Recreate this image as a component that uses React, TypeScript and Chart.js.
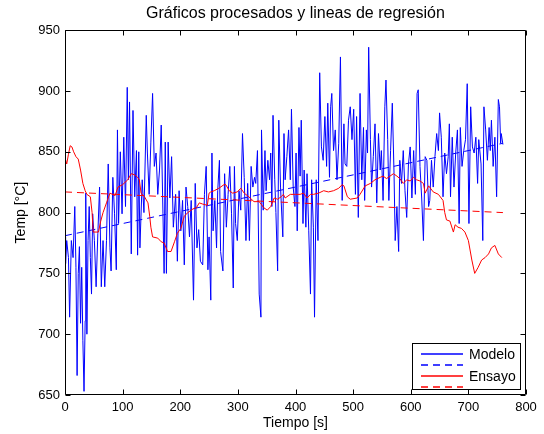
import React, { useEffect, useRef } from 'react';
import { Chart, registerables } from 'chart.js';

Chart.register(...registerables);

const FONT = "'Liberation Sans', Arial, Helvetica, sans-serif";

const titleText = 'Gráficos procesados y lineas de regresión';
const xTitle = 'Tiempo [s]';
const yTitle = 'Temp [°C]';

const xTicks = [0, 100, 200, 300, 400, 500, 600, 700, 800];
const yTicks = [650, 700, 750, 800, 850, 900, 950];

const legendLabels = ['Modelo', '', 'Ensayo', ''];

// Modelo (blue) – time [s]
const modeloT = [
  0, 1, 3, 6, 8, 11, 14, 17, 19, 21, 23, 25, 27, 29, 31, 33, 35, 36, 38, 40,
  42, 44, 46, 48, 51, 54, 57, 60, 63, 66, 69, 72, 75, 78, 80, 83, 86, 89, 91, 93,
  96, 99, 102, 105, 108, 110, 112, 115, 118, 121, 124, 126, 128, 130, 134, 137, 141, 143, 146, 149,
  152, 155, 158, 161, 164, 167, 170, 172, 174, 176, 179, 182, 185, 188, 192, 195, 198, 201, 204, 207,
  210, 213, 216, 219, 223, 226, 229, 232, 235, 239, 242, 245, 248, 250, 253, 255, 257, 260, 263, 265,
  268, 270, 274, 277, 280, 283, 286, 289, 292, 294, 296, 299, 302, 305, 308, 311, 314, 317, 320, 323,
  326, 329, 331, 334, 337, 340, 341, 344, 347, 349, 352, 355, 357, 359, 361, 364, 366, 369, 371, 374,
  378, 380, 382, 385, 388, 391, 393, 396, 399, 401, 403, 406, 408, 410, 413, 415, 418, 420, 423, 426,
  428, 431, 433, 436, 439, 442, 445, 448, 451, 454, 456, 459, 461, 463, 466, 469, 472, 475, 478, 481,
  484, 486, 489, 492, 495, 498, 501, 504, 506, 509, 512, 515, 518, 520, 523, 525, 527, 530, 532, 535,
  538, 541, 544, 547, 549, 552, 555, 557, 560, 562, 565, 568, 571, 573, 576, 579, 581, 584, 587, 590,
  593, 596, 599, 602, 605, 608, 611, 613, 616, 619, 622, 625, 628, 631, 633, 636, 639, 642, 645, 648,
  650, 653, 656, 659, 662, 665, 667, 669, 672, 675, 678, 681, 684, 686, 689, 692, 695, 698, 701, 704,
  707, 710, 713, 716, 718, 722, 725, 727, 730, 733, 736, 738, 740, 743, 746, 749, 752, 754, 756, 757,
  760,
];
// Modelo (blue) – temperature [°C]
const modeloTemp = [
  780, 758, 777, 763, 714, 777, 763, 805, 755, 666, 750, 772, 709, 755, 695, 653, 711, 816, 700, 777,
  805, 763, 733, 799, 777, 739, 783, 821, 739, 777, 739, 777, 840, 771, 752, 829, 799, 753, 868, 791,
  850, 799, 862, 805, 903, 827, 891, 766, 884, 813, 851, 765, 850, 771, 827, 800, 880, 849, 815, 858,
  898, 838, 849, 815, 835, 872, 799, 750, 858, 750, 858, 812, 846, 788, 815, 760, 818, 785, 810, 757,
  821, 805, 780, 810, 728, 824, 771, 786, 760, 757, 815, 838, 753, 780, 728, 849, 785, 810, 771, 818,
  843, 768, 752, 832, 788, 815, 838, 799, 738, 838, 791, 777, 818, 802, 865, 829, 777, 824, 777, 838,
  821, 829, 824, 851, 733, 714, 868, 802, 851, 818, 843, 827, 849, 805, 880, 827, 800, 752, 876, 821,
  780, 865, 827, 846, 868, 827, 885, 821, 805, 849, 785, 870, 830, 876, 791, 835, 788, 832, 785, 733,
  827, 788, 714, 827, 777, 915, 854, 843, 879, 838, 890, 829, 887, 898, 851, 868, 827, 857, 928, 810,
  873, 840, 838, 876, 887, 860, 885, 815, 879, 796, 898, 827, 870, 810, 868, 849, 936, 860, 821, 846,
  873, 808, 865, 835, 851, 810, 887, 909, 860, 810, 851, 890, 832, 777, 805, 768, 843, 824, 851, 818,
  796, 840, 854, 812, 851, 815, 898, 901, 838, 812, 777, 846, 843, 805, 810, 843, 821, 846, 865, 851,
  882, 862, 813, 849, 832, 846, 873, 813, 862, 821, 849, 868, 791, 870, 838, 851, 860, 906, 791, 887,
  854, 849, 862, 824, 860, 840, 777, 887, 868, 843, 870, 851, 876, 838, 862, 813, 893, 887, 857, 865,
  856,
];

// Ensayo (red) – time [s]
const ensayoT = [
  0, 3, 6, 9, 12, 15, 19, 23, 27, 31, 35, 38, 44, 47, 49, 58, 62, 66, 72, 78,
  87, 92, 100, 109, 115, 121, 126, 129, 132, 138, 144, 147, 149, 152, 161, 167, 172, 178, 184, 190,
  195, 201, 207, 213, 222, 228, 233, 239, 247, 250, 253, 259, 267, 276, 279, 285, 291, 299, 305, 311,
  319, 328, 337, 345, 351, 357, 363, 369, 375, 379, 382, 391, 400, 408, 414, 420, 426, 431, 440, 449,
  457, 466, 475, 481, 484, 490, 495, 507, 512, 521, 530, 538, 547, 552, 558, 564, 570, 576, 581, 587,
  593, 599, 605, 610, 616, 622, 625, 631, 639, 648, 656, 659, 662, 668, 674, 677, 682, 688, 694, 700,
  706, 711, 717, 723, 729, 735, 740, 746, 752, 758,
];
// Ensayo (red) – temperature [°C]
const ensayoTemp = [
  845, 840, 848, 855, 854, 850, 846, 844, 835, 824, 818, 815, 813, 800, 784, 784, 793, 800, 808, 816,
  814, 821, 823, 827, 832, 831, 829, 827, 816, 813, 808, 797, 788, 780, 779, 776, 775, 768, 768, 776,
  783, 787, 797, 800, 803, 804, 808, 807, 806, 816, 817, 818, 820, 823, 823, 818, 816, 817, 820, 816,
  813, 809, 809, 804, 802, 805, 812, 811, 813, 815, 812, 815, 815, 815, 816, 812, 815, 815, 816, 818,
  817, 818, 820, 823, 822, 813, 811, 812, 815, 822, 824, 827, 829, 830, 828, 830, 832, 830, 828, 824,
  827, 826, 829, 827, 826, 824, 816, 822, 817, 815, 810, 800, 794, 793, 784, 790, 788, 787, 784, 777,
  761, 750, 755, 761, 763, 766, 771, 773, 766, 763,
];

// Regression lines (end points)
const regT = [0, 760];
const regModelo = [781, 857];
const regEnsayo = [817, 800];

const BLUE = '#0000ff';
const RED = '#ff0000';
const DASH = [7, 5];

const legendColors = [BLUE, BLUE, RED, RED];
const legendDashed = [false, true, false, true];

const pts = (xs: number[], ys: number[]) => xs.map((x, i) => ({ x, y: ys[i] }));

const titleOverAxes = {
  id: 'titleOverAxes',
  afterLayout(chart: any) {
    const tb = chart.titleBlock;
    if (tb) {
      tb.left = chart.chartArea.left;
      tb.right = chart.chartArea.right;
      tb.width = tb.right - tb.left;
    }
  },
};

const framePlugin = {
  id: 'frame',
  afterDatasetsDraw(chart: any) {
    const { ctx, chartArea: a, scales } = chart;
    const xs = scales.x;
    const ys = scales.y;
    const L = Math.round(a.left) + 0.5;
    const R = Math.round(a.right) - 0.5;
    const T = Math.round(a.top) + 0.5;
    const B = Math.round(a.bottom) - 0.5;
    const tl = 5;
    ctx.save();
    ctx.strokeStyle = '#000';
    ctx.lineWidth = 1;
    ctx.setLineDash([]);
    ctx.beginPath();
    ctx.rect(L, T, R - L, B - T);
    xTicks.forEach((v) => {
      const px = Math.round(xs.getPixelForValue(v)) + 0.5;
      ctx.moveTo(px, B);
      ctx.lineTo(px, B - tl);
      ctx.moveTo(px, T);
      ctx.lineTo(px, T + tl);
    });
    yTicks.forEach((v) => {
      const py = Math.round(ys.getPixelForValue(v)) + 0.5;
      ctx.moveTo(L, py);
      ctx.lineTo(L + tl, py);
      ctx.moveTo(R, py);
      ctx.lineTo(R - tl, py);
    });
    ctx.stroke();
    ctx.restore();
  },
};

const legendBox = {
  id: 'legendBox',
  afterDraw(chart: any) {
    const { ctx, chartArea: a } = chart;
    const w = 109;
    const h = 47;
    const right = Math.round(a.right) - 5;
    const bottom = Math.round(a.bottom) - 5;
    const left = right - w;
    const top = bottom - h;
    ctx.save();
    ctx.setLineDash([]);
    ctx.fillStyle = '#fff';
    ctx.fillRect(left, top, w, h);
    ctx.fillStyle = '#000';
    ctx.fillRect(left, top, w, 1);
    ctx.fillRect(left, top + h - 1, w, 1);
    ctx.fillRect(left, top, 1, h);
    ctx.fillRect(left + w - 1, top, 1, h);
    const rows = [11, 22, 33, 44];
    const x0 = left + 9;
    const x1 = left + 51;
    legendLabels.forEach((lab, i) => {
      const y = Math.round(top + rows[i]);
      ctx.beginPath();
      ctx.strokeStyle = legendColors[i];
      ctx.lineWidth = 1.5;
      ctx.setLineDash(legendDashed[i] ? DASH : []);
      ctx.moveTo(x0, y);
      ctx.lineTo(x1, y);
      ctx.stroke();
      ctx.setLineDash([]);
      if (lab) {
        ctx.fillStyle = '#000';
        ctx.font = `14px ${FONT}`;
        ctx.textAlign = 'left';
        ctx.textBaseline = 'middle';
        ctx.fillText(lab, left + 57, y + 1);
      }
    });
    ctx.restore();
  },
};

export default function App() {
  const ref = useRef<HTMLCanvasElement>(null);

  useEffect(() => {
    const canvas = ref.current;
    if (!canvas) return;
    const chart = new Chart(canvas, {
      type: 'line',
      data: {
        datasets: [
          {
            label: legendLabels[0],
            data: pts(modeloT, modeloTemp),
            borderColor: legendColors[0],
            borderWidth: 1,
            pointRadius: 0,
            tension: 0,
            order: 3,
          },
          {
            label: legendLabels[1],
            data: pts(regT, regModelo),
            borderColor: legendColors[1],
            borderWidth: 1,
            borderDash: DASH,
            pointRadius: 0,
            order: 2,
          },
          {
            label: legendLabels[2],
            data: pts(ensayoT, ensayoTemp),
            borderColor: legendColors[2],
            borderWidth: 1,
            pointRadius: 0,
            tension: 0,
            order: 1,
          },
          {
            label: legendLabels[3],
            data: pts(regT, regEnsayo),
            borderColor: legendColors[3],
            borderWidth: 1,
            borderDash: DASH,
            pointRadius: 0,
            order: 0,
          },
        ],
      } as any,
      options: {
        responsive: false,
        maintainAspectRatio: false,
        animation: false,
        events: [],
        layout: { padding: { top: 0, right: 18, bottom: 0, left: 0 } },
        plugins: {
          legend: { display: false },
          tooltip: { enabled: false },
          title: {
            display: true,
            text: titleText,
            color: '#000',
            font: { family: FONT, size: 16, weight: 'normal' },
            padding: { top: 4, bottom: 7 },
          },
        },
        scales: {
          x: {
            type: 'linear',
            min: 0,
            max: 800,
            grid: { display: false, drawTicks: false },
            border: { display: false },
            ticks: {
              color: '#000',
              font: { family: FONT, size: 13 },
              padding: 5,
              maxRotation: 0,
              autoSkip: false,
            },
            afterBuildTicks: (s: any) => {
              s.ticks = xTicks.map((v) => ({ value: v }));
            },
            afterFit: (s: any) => {
              s.height = 39;
            },
            title: {
              display: true,
              text: xTitle,
              color: '#000',
              font: { family: FONT, size: 14 },
              padding: { top: 0, bottom: 2 },
            },
          },
          y: {
            type: 'linear',
            min: 650,
            max: 950,
            grid: { display: false, drawTicks: false },
            border: { display: false },
            ticks: {
              color: '#000',
              font: { family: FONT, size: 13 },
              padding: 5,
              autoSkip: false,
            },
            afterBuildTicks: (s: any) => {
              s.ticks = yTicks.map((v) => ({ value: v }));
            },
            afterFit: (s: any) => {
              s.width = 65;
            },
            title: {
              display: true,
              text: yTitle,
              color: '#000',
              font: { family: FONT, size: 14 },
              padding: { top: 13, bottom: 0 },
            },
          },
        },
      } as any,
      plugins: [titleOverAxes, framePlugin, legendBox],
    });
    return () => chart.destroy();
  }, []);

  return (
    <div style={{ position: 'absolute', left: 0, top: 0, width: 544, height: 434, background: '#fff' }}>
      <canvas ref={ref} width={544} height={434} style={{ display: 'block', width: 544, height: 434 }} />
    </div>
  );
}
